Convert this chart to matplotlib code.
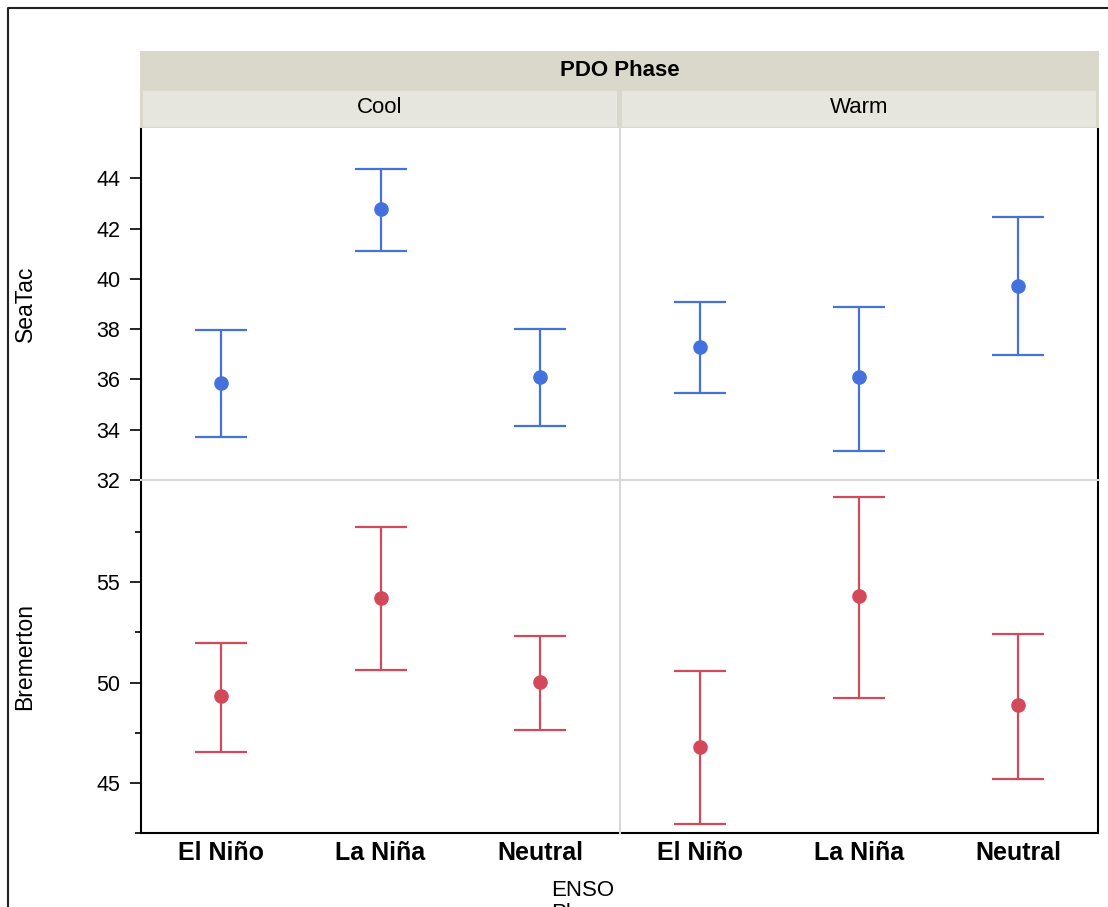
import matplotlib
matplotlib.use('agg')
import matplotlib.pyplot as plt
from matplotlib.patches import Rectangle
from matplotlib.lines import Line2D
from matplotlib.ticker import FixedLocator

plt.rcParams['font.family'] = ['Liberation Sans', 'DejaVu Sans']

# data
enso = ['El Niño', 'La Niña', 'Neutral']
phases = ['Cool', 'Warm']

seatac_mean = {'Cool': [35.87, 42.76, 36.08], 'Warm': [37.30, 36.08, 39.73]}
seatac_lo = {'Cool': [33.70, 41.11, 34.15], 'Warm': [35.47, 33.17, 36.96]}
seatac_hi = {'Cool': [37.96, 44.37, 37.99], 'Warm': [39.09, 38.89, 42.45]}

brem_mean = {'Cool': [49.35, 54.22, 50.03], 'Warm': [46.78, 54.31, 48.87]}
brem_lo = {'Cool': [46.56, 50.63, 47.63], 'Warm': [42.97, 49.22, 45.21]}
brem_hi = {'Cool': [51.96, 57.76, 52.34], 'Warm': [50.57, 59.26, 52.44]}

W, H = 1108, 907
fig = plt.figure(figsize=(W / 100, H / 100), dpi=100)


def fx(x):
    return x / W


def fy(y):
    return 1 - y / H


blue = '#4372DF'
red = '#D4495A'

rows = [
    ('SeaTac', seatac_mean, seatac_lo, seatac_hi, blue, (32, 46), [32, 34, 36, 38, 40, 42, 44], [], 128, 480),
    ('Bremerton', brem_mean, brem_lo, brem_hi, red, (42.5, 60.1), [45, 50, 55], [42.5, 47.5, 52.5, 57.5], 480, 833),
]
cols = [(141, 620), (620, 1098)]

xs = [0.5, 1.5, 2.5]
for r, (name, mean, lo, hi, col, ylim, major, minor, ytop, ybot) in enumerate(rows):
    for c, phase in enumerate(phases):
        x0, x1 = cols[c]
        ax = fig.add_axes([fx(x0), fy(ybot), (x1 - x0) / W, (ybot - ytop) / H])
        m = mean[phase]
        err = [[m[i] - lo[phase][i] for i in range(3)],
               [hi[phase][i] - m[i] for i in range(3)]]
        ax.errorbar(xs, m, yerr=err, fmt='o', color=col, ms=9.5,
                    elinewidth=1.6, capsize=19, capthick=1.6, clip_on=False)
        ax.set_xlim(0, 3)
        ax.set_ylim(*ylim)
        for s in ax.spines.values():
            s.set_visible(False)
        ax.spines['left'].set_visible(c == 0)
        ax.spines['right'].set_visible(c == 1)
        ax.spines['bottom'].set_visible(r == 1)
        for s in ['left', 'right', 'bottom']:
            ax.spines[s].set_linewidth(1.5)
            ax.spines[s].set_color('black')
        if c == 0:
            ax.yaxis.set_major_locator(FixedLocator(major))
            ax.yaxis.set_minor_locator(FixedLocator(minor))
            ax.tick_params(axis='y', which='major', length=8, width=1.2,
                           labelsize=15.5, pad=7)
            ax.tick_params(axis='y', which='minor', length=4, width=1.2)
        else:
            ax.set_yticks([])
        if r == 1:
            ax.set_xticks(xs)
            ax.set_xticklabels(enso, fontsize=18, fontweight='bold')
            ax.tick_params(axis='x', length=0, pad=6)
        else:
            ax.set_xticks([])
    fig.text(fx(25), fy((ytop + ybot) / 2), name, rotation=90,
             ha='center', va='center', fontsize=16.5)

# light grey panel dividers
fig.add_artist(Line2D([fx(620), fx(620)], [fy(128), fy(833)], color='#D8D8D8', lw=1.5))
fig.add_artist(Line2D([fx(141), fx(1098)], [fy(480), fy(480)], color='#D8D8D8', lw=1.5))

# header strips
fig.add_artist(Rectangle((fx(140), fy(128)), (1099 - 140) / W, (128 - 51) / H,
                         transform=fig.transFigure, facecolor='#DAD8CA', edgecolor='none'))
for (x0, x1), phase in zip([(143, 617), (622, 1096)], phases):
    fig.add_artist(Rectangle((fx(x0), fy(127)), (x1 - x0) / W, (127 - 91) / H,
                             transform=fig.transFigure, facecolor='#E6E6DE', edgecolor='none'))
    fig.text(fx((x0 + x1) / 2), fy(107.5), phase, ha='center', va='center', fontsize=16)
fig.text(fx(620), fy(70), 'PDO Phase', ha='center', va='center',
         fontsize=16, fontweight='bold')

fig.text(fx(583), fy(880), 'ENSO\nPhase', ha='center', va='top', fontsize=16,
         linespacing=1.15)

# outer frame (cut off at the right and bottom)
fig.add_artist(Line2D([fx(8), fx(8), fx(1120)], [fy(920), fy(8), fy(8)],
                      color='#222222', lw=1.5))

fig.savefig('out.png', dpi=100)
